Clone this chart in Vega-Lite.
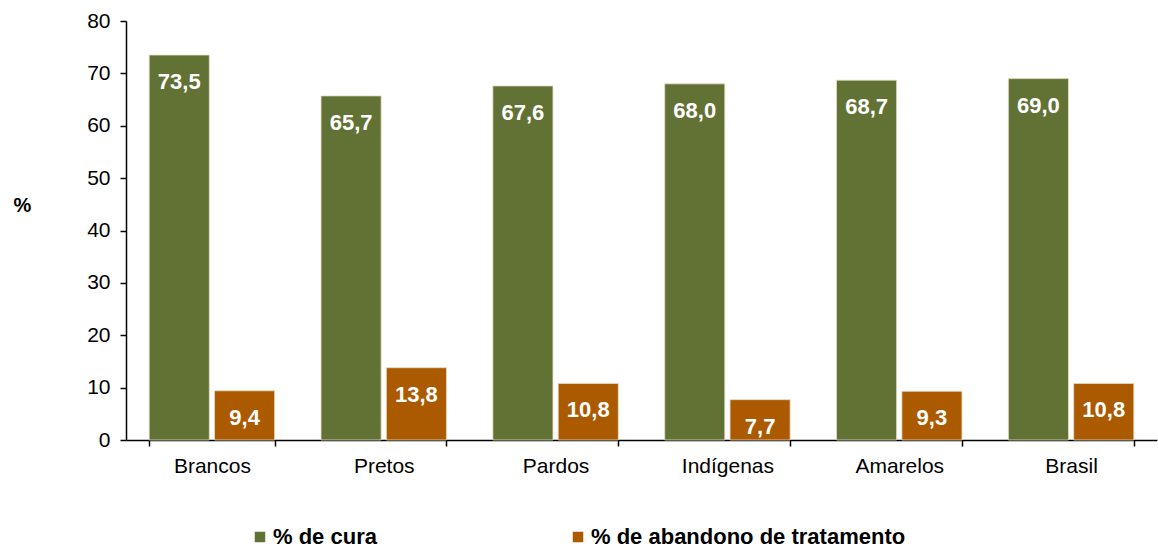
{
  "$schema": "https://vega.github.io/schema/vega-lite/v6.json",
  "width": 1031,
  "height": 419,
  "autosize": {"type": "none"},
  "padding": {"left": 126, "top": 21, "right": 1, "bottom": 110},
  "background": "white",
  "config": {
    "view": {"stroke": null},
    "font": "Liberation Sans"
  },
  "data": {
    "values": [
      {"grupo": "Brancos", "serie": "% de cura", "valor": 73.5, "rotulo": "73,5"},
      {"grupo": "Brancos", "serie": "% de abandono de tratamento", "valor": 9.4, "rotulo": "9,4"},
      {"grupo": "Pretos", "serie": "% de cura", "valor": 65.7, "rotulo": "65,7"},
      {"grupo": "Pretos", "serie": "% de abandono de tratamento", "valor": 13.8, "rotulo": "13,8"},
      {"grupo": "Pardos", "serie": "% de cura", "valor": 67.6, "rotulo": "67,6"},
      {"grupo": "Pardos", "serie": "% de abandono de tratamento", "valor": 10.8, "rotulo": "10,8"},
      {"grupo": "Indígenas", "serie": "% de cura", "valor": 68.0, "rotulo": "68,0"},
      {"grupo": "Indígenas", "serie": "% de abandono de tratamento", "valor": 7.7, "rotulo": "7,7"},
      {"grupo": "Amarelos", "serie": "% de cura", "valor": 68.7, "rotulo": "68,7"},
      {"grupo": "Amarelos", "serie": "% de abandono de tratamento", "valor": 9.3, "rotulo": "9,3"},
      {"grupo": "Brasil", "serie": "% de cura", "valor": 69.0, "rotulo": "69,0"},
      {"grupo": "Brasil", "serie": "% de abandono de tratamento", "valor": 10.8, "rotulo": "10,8"}
    ]
  },
  "encoding": {
    "x": {
      "field": "grupo", "type": "nominal", "sort": null,
      "scale": {"paddingInner": 0.27, "paddingOuter": 0.135},
      "axis": {
        "title": null, "labelAngle": 0, "labelFontSize": 21, "labelColor": "black",
        "labelPadding": 9, "domainColor": "black", "domainWidth": 1.5,
        "tickColor": "black", "tickSize": 6, "tickWidth": 1.5, "tickBand": "extent"
      }
    },
    "xOffset": {
      "field": "serie", "type": "nominal", "sort": ["% de cura", "% de abandono de tratamento"],
      "scale": {"paddingInner": 0.08}
    },
    "y": {
      "field": "valor", "type": "quantitative",
      "scale": {"domain": [0, 80], "nice": false},
      "axis": {
        "values": [0, 10, 20, 30, 40, 50, 60, 70, 80], "grid": false,
        "title": "%", "titleAngle": 0, "titleFontSize": 20, "titleFontWeight": "bold",
        "titleColor": "black", "titleX": -104, "titleY": 184, "titleAlign": "center", "titleBaseline": "middle",
        "labelFontSize": 21, "labelColor": "black", "labelPadding": 10,
        "domainColor": "black", "domainWidth": 1.5, "tickColor": "black", "tickSize": 6, "tickWidth": 1.5
      }
    }
  },
  "layer": [
    {
      "mark": {"type": "bar", "xOffset": 3, "stroke": "#e8dcc8", "strokeWidth": 0.8},
      "encoding": {
        "color": {
          "field": "serie", "type": "nominal",
          "sort": ["% de cura", "% de abandono de tratamento"],
          "scale": {"domain": ["% de cura", "% de abandono de tratamento"], "range": ["#617234", "#AB5A00"]},
          "legend": {
            "title": null, "orient": "none", "legendX": 123, "legendY": 505,
            "direction": "horizontal", "columns": 2, "columnPadding": 190,
            "symbolType": "square", "symbolSize": 110, "symbolStrokeWidth": 0,
            "labelFontSize": 22, "labelFontWeight": "bold", "labelColor": "black",
            "labelOffset": 2, "labelLimit": 500
          }
        }
      }
    },
    {
      "mark": {"type": "text", "xOffset": 3, "baseline": "middle", "dy": 27, "fontSize": 22, "fontWeight": "bold", "color": "white"},
      "encoding": {
        "text": {"field": "rotulo"}
      }
    }
  ]
}
